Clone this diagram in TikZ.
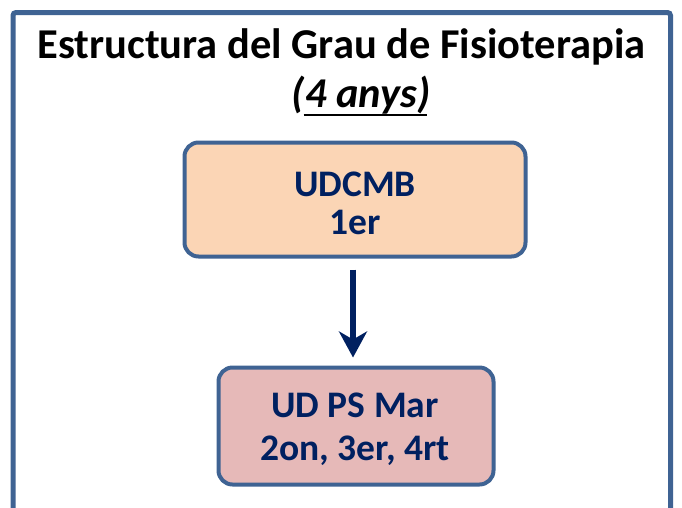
\documentclass[tikz,border=0pt]{standalone}
\usepackage{fontspec}
\setmainfont{Carlito}
\usetikzlibrary{arrows.meta}
\definecolor{frameblue}{HTML}{3F6393}
\definecolor{navy}{HTML}{002060}
\definecolor{peach}{HTML}{FBD5B5}
\definecolor{rose}{HTML}{E6B9B8}
\tikzset{
  unitbox/.style={draw=frameblue, line width=4pt, rounded corners=14pt, inner sep=0pt},
  unittext/.style={text=navy, font=\fontsize{37.5}{38}\selectfont\bfseries, inner sep=0pt, anchor=base},
  headtext/.style={font=\fontsize{42.5}{44}\selectfont\bfseries, inner sep=0pt, anchor=base},
  flowarrow/.style={draw=navy, line width=6pt, -{Stealth[length=26pt,width=28pt,inset=8pt]}}
}
\begin{document}
\begin{tikzpicture}[x=1pt,y=1pt]
\useasboundingbox (0,0) rectangle (682,-507);
\draw[frameblue, line width=5pt, rounded corners=3pt] (13,-520) -- (13,-12.5) -- (670.5,-12.5) -- (670.5,-520);
\node[headtext] (title) at (341.5,-58) {Estructura del Grau de Fisioterapia};
\node[headtext, font=\fontsize{42.5}{44}\selectfont\bfseries\itshape] (years) at (361,-107) {(4 anys)};
\draw[line width=2.5pt] ([xshift=12pt,yshift=-8pt]years.base west) -- ([xshift=-3pt,yshift=-8pt]years.base east);
\node[unitbox, fill=peach, minimum width=341pt, minimum height=114pt] (b1) at (355,-199.5) {};
\node[unitbox, fill=rose, minimum width=275pt, minimum height=117pt] (b2) at (356,-426) {};
\node[unittext] (b1a) at (355,-196) {UDCMB};
\node[unittext] (b1b) at (355,-234) {1er};
\node[unittext] (b2a) at (355,-417) {UD PS Mar};
\node[unittext] (b2b) at (355,-460) {2on, 3er, 4rt};
\draw[flowarrow] ([xshift=-2pt,yshift=-11pt]b1.south) -- ([xshift=-3pt,yshift=8pt]b2.north);
\end{tikzpicture}
\end{document}
